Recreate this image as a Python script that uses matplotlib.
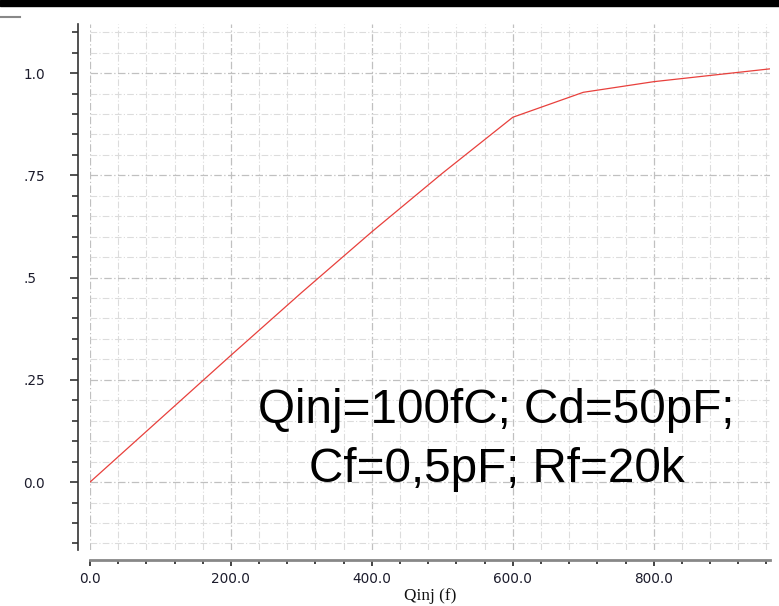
import matplotlib
matplotlib.use("Agg")
import matplotlib.pyplot as plt
from matplotlib.ticker import MultipleLocator, FixedLocator
from matplotlib.patches import Rectangle
from matplotlib.lines import Line2D

# data
qinj = [0, 100, 200, 300, 400, 500, 600, 700, 800, 900, 1000]
vout = [0.0, 0.155, 0.31, 0.463, 0.612, 0.755, 0.892, 0.953, 0.979, 0.998, 1.017]
xticks = [0, 200, 400, 600, 800]
xticklabels = ["0.0", "200.0", "400.0", "600.0", "800.0"]
yticks = [0.0, 0.25, 0.5, 0.75, 1.0]
yticklabels = ["0.0", ".25", ".5", ".75", "1.0"]
xlabel = "Qinj (f)"
note1 = "Qinj=100fC; Cd=50pF;"
note2 = "Cf=0,5pF; Rf=20k"

W, H = 779, 606
fig = plt.figure(figsize=(W / 100, H / 100), dpi=100)
ax = fig.add_axes([90 / W, (H - 550) / H, 680 / W, 526 / H])

ax.plot(qinj, vout, color="#e8403c", lw=0.9, zorder=3)
ax.set_xlim(0, 965)
ax.set_ylim(-0.166, 1.12)

ax.xaxis.set_major_locator(FixedLocator(xticks))
ax.set_xticklabels(xticklabels)
ax.xaxis.set_minor_locator(MultipleLocator(40))
ax.yaxis.set_major_locator(FixedLocator(yticks))
ax.set_yticklabels(yticklabels)
ax.yaxis.set_minor_locator(MultipleLocator(0.05))

ax.grid(which="minor", color="#dcdcdc", lw=0.8, ls=(0, (6, 2, 1, 2)))
ax.grid(which="major", color="#c0c0c0", lw=0.9, ls=(0, (6, 2, 1, 2)))
ax.set_axisbelow(True)

for s in ["top", "right"]:
    ax.spines[s].set_visible(False)
ax.spines["left"].set_position(("outward", 9))
ax.spines["bottom"].set_position(("outward", 7))
ax.spines["left"].set_color("#333333")
ax.spines["left"].set_linewidth(1.2)
ax.spines["bottom"].set_color("#888888")
ax.spines["bottom"].set_linewidth(2)

lab_color = "#1c1c2c"
ax.tick_params(axis="y", which="major", length=6, width=1.2, color="#333333",
               pad=33, labelsize=9.8, labelcolor=lab_color)
ax.tick_params(axis="y", which="minor", length=4, width=1.2, color="#333333")
for t in ax.get_yticklabels():
    t.set_horizontalalignment("left")
ax.tick_params(axis="x", which="major", length=4, width=1.2, color="#222222",
               pad=5, labelsize=9.8, labelcolor=lab_color)
ax.tick_params(axis="x", which="minor", length=3, width=1.2, color="#222222")

ax.set_xlabel(xlabel, family="Liberation Serif", fontsize=12.3, color="#111111", labelpad=1)

fig.text(496 / W, (H - 423) / H, note1, family="Liberation Sans", fontsize=34.3,
         ha="center", va="baseline", color="black")
fig.text(497 / W, (H - 482) / H, note2, family="Liberation Sans", fontsize=34.3,
         ha="center", va="baseline", color="black")

# top black band and small gray mark
fig.patches.append(Rectangle((0, (H - 6) / H), 1, 6 / H, transform=fig.transFigure,
                             color="black", zorder=10))
fig.lines.append(Line2D([0, 20 / W], [(H - 17) / H] * 2, transform=fig.transFigure,
                        color="#888888", lw=1.5))

fig.savefig("out.png", dpi=100)
